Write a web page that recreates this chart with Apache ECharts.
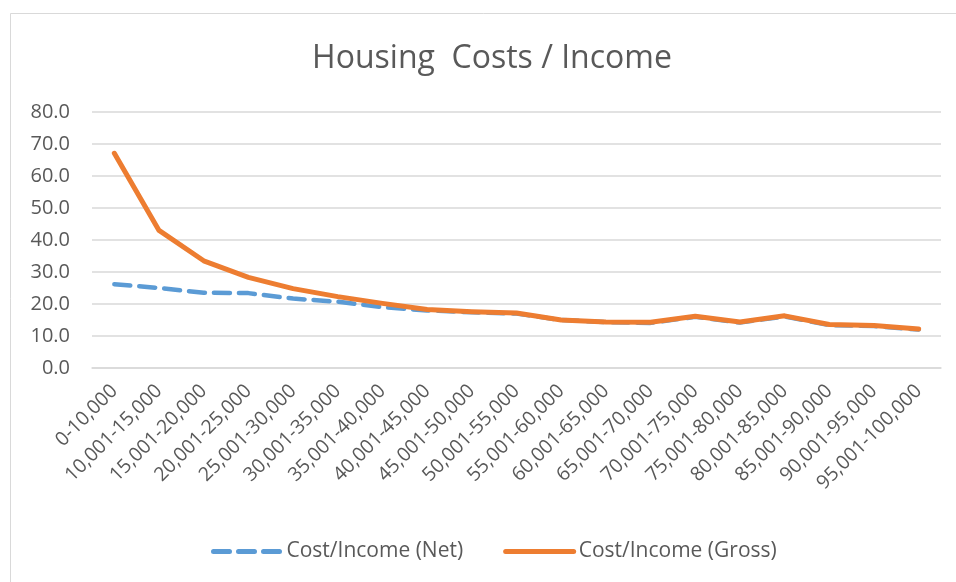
<!DOCTYPE html>
<html>
<head>
<meta charset="utf-8">
<script src="https://cdn.jsdelivr.net/npm/echarts@6/dist/echarts.min.js"></script>
<style>
  html, body { margin: 0; padding: 0; background: #fff; }
  #main { width: 956px; height: 582px; }
</style>
</head>
<body>
<div id="main"></div>
<script>
var categories = ["0-10,000", "10,001-15,000", "15,001-20,000", "20,001-25,000", "25,001-30,000",
  "30,001-35,000", "35,001-40,000", "40,001-45,000", "45,001-50,000", "50,001-55,000",
  "55,001-60,000", "60,001-65,000", "65,001-70,000", "70,001-75,000", "75,001-80,000",
  "80,001-85,000", "85,001-90,000", "90,001-95,000", "95,001-100,000"];
var netValues = [26.2, 25.0, 23.5, 23.4, 21.7, 20.7, 19.0, 18.0, 17.4, 17.0,
  15.0, 14.3, 14.1, 16.0, 14.2, 16.1, 13.4, 13.1, 12.0];
var grossValues = [67.1, 43.0, 33.5, 28.3, 24.8, 22.3, 20.2, 18.3, 17.6, 17.2,
  15.0, 14.4, 14.3, 16.2, 14.4, 16.3, 13.6, 13.3, 12.2];

var font = "'Open Sans', 'Noto Sans', sans-serif";
var myChart = echarts.init(document.getElementById("main"));

var option = {
  backgroundColor: "#fff",
  animation: false,
  textStyle: { fontFamily: font, color: "#595959" },
  title: {
    text: "Housing  Costs / Income",
    left: 487,
    textAlign: "center",
    top: 38,
    textStyle: { fontSize: 32, fontWeight: "normal", color: "#595959", fontFamily: font }
  },
  graphic: [{
    type: "rect",
    shape: { x: 10.5, y: 13.5, width: 960, height: 600 },
    style: { fill: "none", stroke: "#d9d9d9", lineWidth: 1 },
    silent: true
  }],
  legend: {
    top: 536,
    left: 206,
    itemWidth: 68,
    itemHeight: 5,
    itemGap: 40,
    itemStyle: { opacity: 0 },
    lineStyle: { width: 5 },
    textStyle: { fontSize: 21, color: "#595959", fontFamily: font },
    data: ["Cost/Income (Net)", "Cost/Income (Gross)"]
  },
  grid: { left: 92, right: 15, top: 112, bottom: 214, containLabel: false },
  xAxis: {
    type: "category",
    data: categories,
    boundaryGap: true,
    axisLine: { lineStyle: { color: "#d9d9d9", width: 1.5 } },
    axisTick: { show: false },
    axisLabel: { rotate: 45, interval: 0, fontSize: 19.5, color: "#595959", margin: 20, fontFamily: font }
  },
  yAxis: {
    type: "value",
    min: 0,
    max: 80,
    interval: 10,
    axisLine: { show: false },
    axisTick: { show: false },
    splitLine: { lineStyle: { color: "#d9d9d9", width: 1.5 } },
    axisLabel: {
      fontSize: 20, color: "#595959", margin: 22, fontFamily: font,
      formatter: function (v) { return v.toFixed(1); }
    }
  },
  series: [
    {
      name: "Cost/Income (Net)",
      type: "line",
      data: netValues,
      symbol: "none",
      itemStyle: { color: "#5B9BD5" },
      lineStyle: { color: "#5B9BD5", width: 4.5, type: [16, 9], cap: "round" }
    },
    {
      name: "Cost/Income (Gross)",
      type: "line",
      data: grossValues,
      symbol: "none",
      itemStyle: { color: "#ED7D31" },
      lineStyle: { color: "#ED7D31", width: 5, cap: "round", join: "round" }
    }
  ]
};
myChart.setOption(option);
</script>
</body>
</html>
